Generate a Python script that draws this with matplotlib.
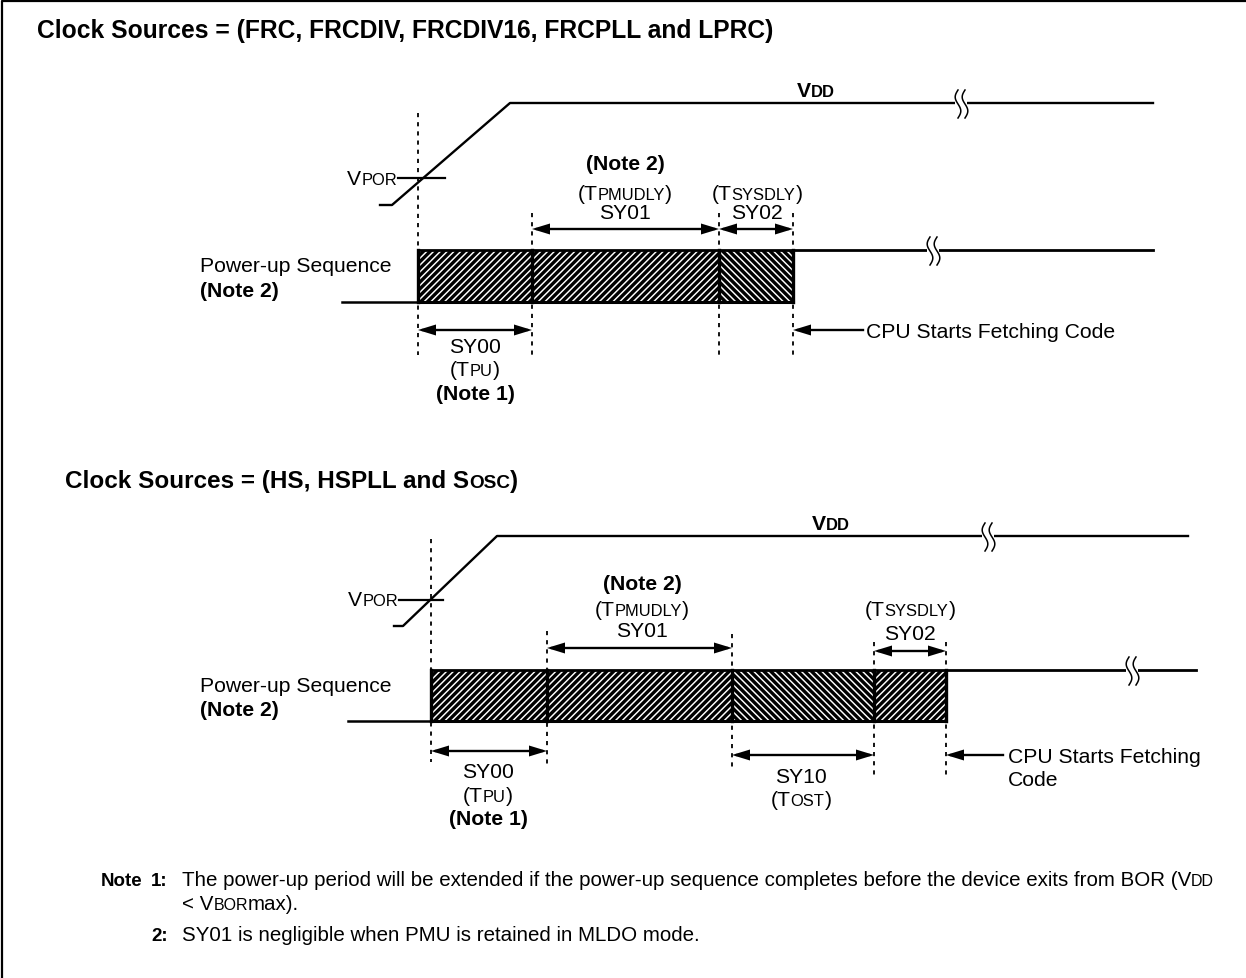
import matplotlib
matplotlib.use('Agg')
import matplotlib.pyplot as plt
from matplotlib import font_manager
from matplotlib.patches import Rectangle, Polygon
import numpy as np

plt.rcParams['lines.scale_dashes'] = False

# ---------------- timeline data (pixel units of the drawing) ----------------
# Panel A: Clock Sources = (FRC, FRCDIV, FRCDIV16, FRCPLL and LPRC)
a_vdd_x = [380, 392, 510, 1153]
a_vdd_y = [206, 206, 104, 104]
a_edges = [418, 532, 719, 793]
a_hatch = ['/', '/', '\\']
a_break_vdd = 958
a_break_seq = 930
# Panel B: Clock Sources = (HS, HSPLL and Sosc)
b_vdd_x = [394, 403, 497, 1188]
b_vdd_y = [627, 627, 537, 537]
b_edges = [431, 547, 732, 874, 946]
b_hatch = ['/', '/', '\\', '/']
b_break_vdd = 985
b_break_seq = 1129

W, H = 1246, 979
fig = plt.figure(figsize=(W / 100, H / 100), dpi=100)
ax = fig.add_axes([0, 0, 1, 1])
ax.set_xlim(0, W)
ax.set_ylim(H, 0)
ax.axis('off')

FONT = 'Liberation Sans'
try:
    font_manager.findfont(font_manager.FontProperties(family='Liberation Sans Narrow'),
                          fallback_to_default=False)
    NARROW = 'Liberation Sans Narrow'
    NSIZE = 17.5
except Exception:
    NARROW = 'Liberation Sans'
    NSIZE = 14.8

FS = 15.2
TS = 17.7
SC = 0.78
renderer = fig.canvas.get_renderer()


def rich(x, y, parts, ha='left', size=FS, family=FONT):
    objs = []
    for s, sc, b in parts:
        t = ax.text(0, y, s, fontsize=size * sc, fontweight='bold' if b else 'normal',
                    family=family, va='baseline', ha='left')
        objs.append(t)
    widths = [t.get_window_extent(renderer).width for t in objs]
    total = sum(widths)
    x0 = x - total / 2 if ha == 'center' else (x - total if ha == 'right' else x)
    for t, w in zip(objs, widths):
        t.set_x(x0)
        x0 += w


def txt(x, y, s, ha='left', bold=False, size=FS, family=FONT):
    ax.text(x, y, s, fontsize=size, fontweight='bold' if bold else 'normal',
            family=family, va='baseline', ha=ha)


def dashed(x, y0, y1):
    ax.plot([x, x], [y0, y1], color='k', lw=1.3, linestyle=(0, (3.0, 3.6)), zorder=2)


def head(xt, y, direction):
    L, hw = 18, 5.5
    pts = [(xt, y), (xt - direction * L, y - hw), (xt - direction * L, y + hw)]
    ax.add_patch(Polygon(pts, closed=True, color='k', lw=0, zorder=5))


def darrow(x0, x1, y):
    ax.plot([x0 + 5, x1 - 5], [y, y], color='k', lw=1.7, zorder=4)
    head(x0, y, -1)
    head(x1, y, 1)


def larrow(xtip, xtail, y):
    ax.plot([xtip + 5, xtail], [y, y], color='k', lw=1.7, zorder=4)
    head(xtip, y, -1)


def brk(x, y):
    ax.add_patch(Rectangle((x - 3, y - 2.5), 12, 5, color='white', lw=0, zorder=6))
    t = np.linspace(0, 1, 60)
    for dx in (0, 7):
        xs = x + dx - 2.8 * np.sin(2 * np.pi * t)
        ys = y - 13 + 28 * t
        ax.plot(xs, ys, color='k', lw=1.1, zorder=7)


def hatch_box(x0, x1, yt, yb, d):
    rect = Rectangle((x0, yt), x1 - x0, yb - yt, fill=False, lw=0)
    ax.add_patch(rect)
    h = yb - yt
    s = 6.8
    for k in np.arange(-h, x1 - x0 + h, s):
        xs = [x0 + k, x0 + k + h] if d == '/' else [x0 + k + h, x0 + k]
        ln, = ax.plot(xs, [yb, yt], color='k', lw=2.4, solid_capstyle='butt', zorder=2)
        ln.set_clip_path(rect)


def sequence(edges, hatches, yt, yb, xlow, xend, xbreak):
    for i, hch in enumerate(hatches):
        hatch_box(edges[i], edges[i + 1], yt, yb, hch)
    ax.plot([xlow, edges[0]], [yb, yb], color='k', lw=1.8, zorder=3)
    ax.plot([edges[0], edges[-1]], [yb, yb], color='k', lw=2.2, zorder=3)
    ax.plot([edges[0], xend], [yt, yt], color='k', lw=2.0, zorder=3)
    for e in edges:
        ax.plot([e, e], [yt, yb], color='k', lw=2.4, zorder=3)
    brk(xbreak, yt)


def vdd(xs, ys, xbreak):
    ax.plot(xs, ys, color='k', lw=1.7, zorder=3)
    brk(xbreak, ys[-1])


# ---------------- border ----------------
ax.plot([2, 2, W], [H, 2, 2], color='k', lw=1.6)

# ---------------- Panel A ----------------
txt(37, 38, 'Clock Sources = (FRC, FRCDIV, FRCDIV16, FRCPLL and LPRC)', bold=True, size=TS)
vdd(a_vdd_x, a_vdd_y, a_break_vdd)
rich(797, 97, [('V', 1, True), ('DD', SC, True)])
rich(397, 185, [('V', 1, False), ('POR', SC, False)], ha='right')
ax.plot([398, 445], [179, 179], color='k', lw=1.6)
dashed(a_edges[0], 114, 356)
for e in a_edges[1:]:
    dashed(e, 214, 356)
sequence(a_edges, a_hatch, 251, 303, 342, 1153, a_break_seq)
txt(200, 272, 'Power-up Sequence')
txt(200, 297, '(Note 2)', bold=True)
darrow(a_edges[1], a_edges[2], 230)
darrow(a_edges[2], a_edges[3], 230)
darrow(a_edges[0], a_edges[1], 331)
larrow(a_edges[3], 863, 331)
txt(866, 338, 'CPU Starts Fetching Code')
txt(625, 170, '(Note 2)', ha='center', bold=True)
rich(625, 200, [('(T', 1, False), ('PMUDLY', SC, False), (')', 1, False)], ha='center')
txt(625, 219, 'SY01', ha='center')
rich(757, 200, [('(T', 1, False), ('SYSDLY', SC, False), (')', 1, False)], ha='center')
txt(757, 219, 'SY02', ha='center')
txt(475, 353, 'SY00', ha='center')
rich(475, 376, [('(T', 1, False), ('PU', SC, False), (')', 1, False)], ha='center')
txt(475, 400, '(Note 1)', ha='center', bold=True)

# ---------------- Panel B ----------------
rich(65, 488, [('Clock Sources = (HS, HSPLL and S', 1, True), ('OSC', SC, True), (')', 1, True)],
     size=TS - 0.2)
vdd(b_vdd_x, b_vdd_y, b_break_vdd)
rich(812, 530, [('V', 1, True), ('DD', SC, True)])
rich(398, 606, [('V', 1, False), ('POR', SC, False)], ha='right')
ax.plot([399, 443], [601, 601], color='k', lw=1.6)
dashed(b_edges[0], 540, 763)
dashed(b_edges[1], 632, 765)
dashed(b_edges[2], 635, 770)
dashed(b_edges[3], 643, 776)
dashed(b_edges[4], 643, 776)
sequence(b_edges, b_hatch, 671, 722, 348, 1196, b_break_seq)
txt(200, 692, 'Power-up Sequence')
txt(200, 716, '(Note 2)', bold=True)
darrow(b_edges[1], b_edges[2], 649)
darrow(b_edges[3], b_edges[4], 652)
darrow(b_edges[0], b_edges[1], 752)
darrow(b_edges[2], b_edges[3], 756)
larrow(b_edges[4], 1003, 756)
txt(1008, 763, 'CPU Starts Fetching')
txt(1008, 786, 'Code')
txt(642, 590, '(Note 2)', ha='center', bold=True)
rich(642, 616, [('(T', 1, False), ('PMUDLY', SC, False), (')', 1, False)], ha='center')
txt(642, 637, 'SY01', ha='center')
rich(910, 616, [('(T', 1, False), ('SYSDLY', SC, False), (')', 1, False)], ha='center')
txt(910, 640, 'SY02', ha='center')
txt(488, 778, 'SY00', ha='center')
rich(488, 802, [('(T', 1, False), ('PU', SC, False), (')', 1, False)], ha='center')
txt(488, 825, '(Note 1)', ha='center', bold=True)
txt(801, 783, 'SY10', ha='center')
rich(801, 806, [('(T', 1, False), ('OST', SC, False), (')', 1, False)], ha='center')

# ---------------- Notes ----------------
txt(101, 886, 'Note', bold=True, size=13.5, family=NARROW)
txt(151, 886, '1:', bold=True, size=13.5, family=NARROW)
rich(182, 886, [('The power-up period will be extended if the power-up sequence completes '
                 'before the device exits from BOR (V', 1, False), ('DD', SC, False)],
     size=NSIZE, family=NARROW)
rich(182, 910, [('< V', 1, False), ('BOR', SC, False), ('max).', 1, False)],
     size=NSIZE, family=NARROW)
txt(151, 941, '2:', bold=True, size=13.5, family=NARROW)
txt(182, 941, 'SY01 is negligible when PMU is retained in MLDO mode.', size=NSIZE, family=NARROW)

fig.savefig('out.png', dpi=100)
